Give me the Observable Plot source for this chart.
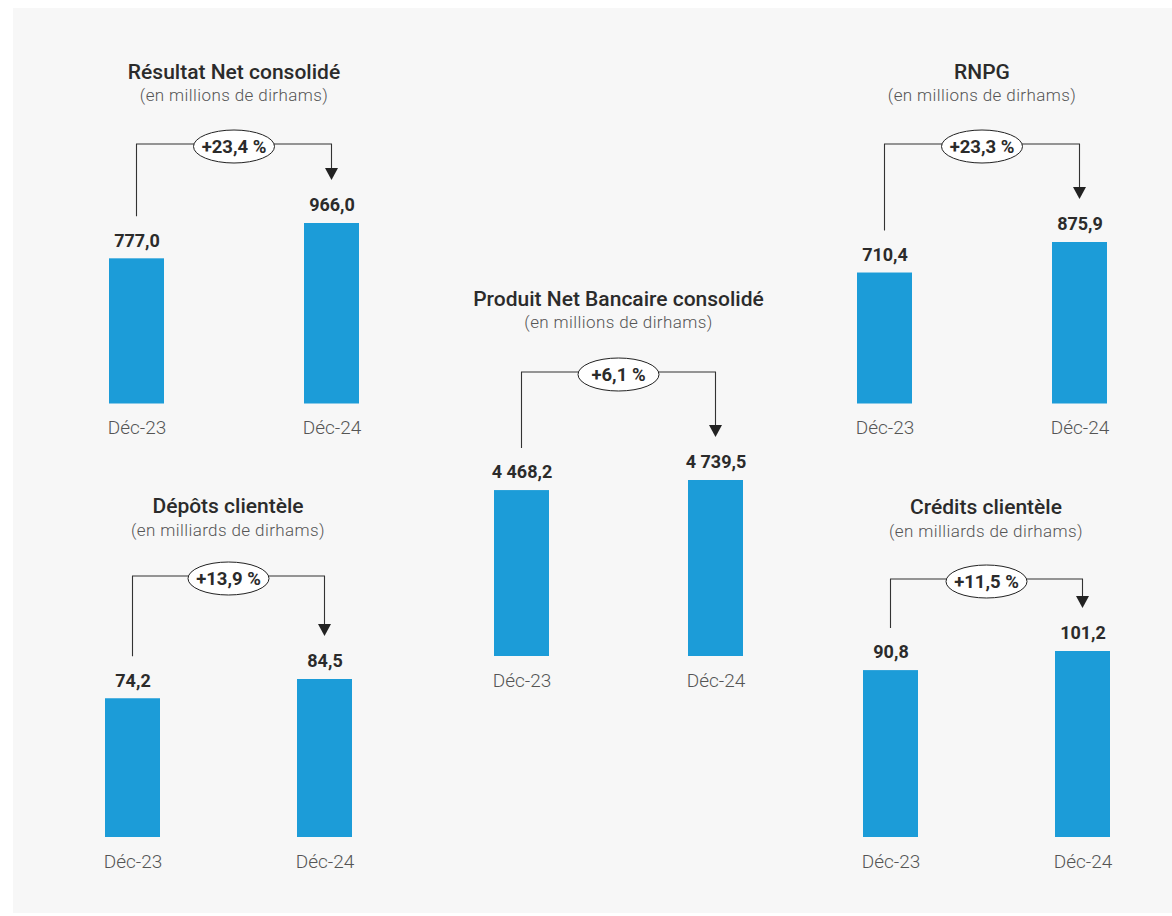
<!DOCTYPE html>
<html><head><meta charset="utf-8">
<script src="https://cdn.jsdelivr.net/npm/d3@7"></script>
<script src="https://cdn.jsdelivr.net/npm/@observablehq/plot@0.6"></script>
<style>
html,body{margin:0;padding:0;background:#fff;}
#root{position:relative;width:1172px;height:916px;overflow:hidden;font-family:Roboto,"DejaVu Sans",sans-serif;}
#bg{position:absolute;left:13px;top:8px;width:1159px;height:905px;background:#f7f7f7;}
.panel{position:absolute;top:0;}
.title{position:absolute;left:-40px;right:-40px;text-align:center;font-size:21px;font-weight:500;color:#2b2b2b;line-height:24px;white-space:nowrap;}
.sub{position:absolute;left:-40px;right:-40px;text-align:center;font-size:17px;font-weight:300;color:#555;line-height:20px;letter-spacing:0.4px;white-space:nowrap;}
.panel svg{position:absolute;left:0;overflow:visible;}
</style></head><body><div id="root"><div id="bg"></div></div>
<script>
// ---- data ----
const periods = ["Déc-23", "Déc-24"];
const resultatNet = [777.0, 966.0];
const rnpg = [710.4, 875.9];
const pnb = [4468.2, 4739.5];
const depots = [74.2, 84.5];
const credits = [90.8, 101.2];
const chartTitles = ["Résultat Net consolidé", "RNPG", "Produit Net Bancaire consolidé", "Dépôts clientèle", "Crédits clientèle"];
const chartUnits = ["(en millions de dirhams)", "(en millions de dirhams)", "(en millions de dirhams)", "(en milliards de dirhams)", "(en milliards de dirhams)"];
const growthLabels = ["+23,4 %", "+23,3 %", "+6,1 %", "+13,9 %", "+11,5 %"];
const series = [resultatNet, rnpg, pnb, depots, credits];

// ---- layout (page pixels) ----
const layout = [
  {bar1Left:109, step:195, baseline:403.5, tallTop:223, bracketY:144, titleY:73, subY:96},
  {bar1Left:857, step:195, baseline:403.5, tallTop:242, bracketY:144, titleY:73, subY:96},
  {bar1Left:494, step:194, baseline:656, tallTop:480, bracketY:372, titleY:300, subY:323},
  {bar1Left:104, step:193, baseline:837, tallTop:679, bracketY:576, titleY:507, subY:531},
  {bar1Left:862, step:193, baseline:837, tallTop:651, bracketY:579, titleY:508, subY:532}
];

const fmt = d3.formatLocale({decimal: ",", thousands: "\u00a0", grouping: [3], currency: ["", ""]}).format(",.1f");
const root = document.getElementById("root");
const BW = 55, ML = 60, MR = 60, BAR = "#1c9cd8";

series.forEach((vals, i) => {
  const L = layout[i];
  const data = periods.map((p, j) => ({period: p, value: vals[j]}));
  const width = ML + BW + L.step + MR;
  const svgTop = L.bracketY - 30;
  const baseRel = L.baseline - svgTop;
  const height = baseRel + 45;
  const vmax = d3.max(vals);

  const panel = document.createElement("div");
  panel.className = "panel";
  panel.style.left = (L.bar1Left - ML) + "px";
  panel.style.width = width + "px";
  panel.style.height = "916px";
  const t = document.createElement("div");
  t.className = "title"; t.textContent = chartTitles[i]; t.style.top = (L.titleY - 13) + "px";
  const s = document.createElement("div");
  s.className = "sub"; s.textContent = chartUnits[i]; s.style.top = (L.subY - 11) + "px";
  panel.appendChild(t); panel.appendChild(s);

  const plot = Plot.plot({
    width, height,
    marginLeft: ML, marginRight: MR, marginTop: 0, marginBottom: 45,
    style: {background: "transparent", fontFamily: "Roboto, sans-serif", overflow: "visible"},
    x: {domain: periods, paddingInner: 1 - BW / L.step, paddingOuter: 0, axis: null},
    y: {domain: [0, vmax], range: [baseRel, L.tallTop - svgTop], axis: null},
    marks: [
      Plot.barY(data, {x: "period", y: "value", fill: BAR}),
      Plot.text(data, {x: "period", y: "value", text: d => fmt(d.value), dy: -18, lineAnchor: "middle", fontSize: 18, fontWeight: "bold", fill: "#2b2b2b"}),
      Plot.text(data, {x: "period", y: () => 0, text: "period", dy: 24, lineAnchor: "middle", fontSize: 19, fontWeight: 300, fill: "#555"})
    ]
  });
  plot.style.top = svgTop + "px";

  const xs = plot.scale("x"), ys = plot.scale("y");
  const cx = periods.map(p => xs.apply(p) + xs.bandwidth / 2);
  const topY = vals.map(v => ys.apply(v));
  const yLine = 30;
  const tip = topY[1] - 43;
  const g = d3.select(plot).append("g");
  g.append("path")
    .attr("d", `M${cx[0]},${topY[0] - 42}V${yLine}H${cx[1]}V${tip - 12}`)
    .attr("fill", "none").attr("stroke", "#333").attr("stroke-width", 1.1);
  g.append("path")
    .attr("d", `M${cx[1] - 6.5},${tip - 12}L${cx[1] + 6.5},${tip - 12}L${cx[1]},${tip}Z`)
    .attr("fill", "#222");
  const mx = (cx[0] + cx[1]) / 2;
  g.append("ellipse").attr("cx", mx).attr("cy", yLine + 2.5).attr("rx", 40.5).attr("ry", 16.5)
    .attr("fill", "#fff").attr("stroke", "#222").attr("stroke-width", 1);
  g.append("text").attr("x", mx).attr("y", yLine + 2.5).attr("dy", "0.35em")
    .attr("text-anchor", "middle").attr("font-size", 18.5).attr("font-weight", "bold")
    .attr("fill", "#2b2b2b").text(growthLabels[i]);

  panel.appendChild(plot);
  root.appendChild(panel);
});
</script></body></html>
